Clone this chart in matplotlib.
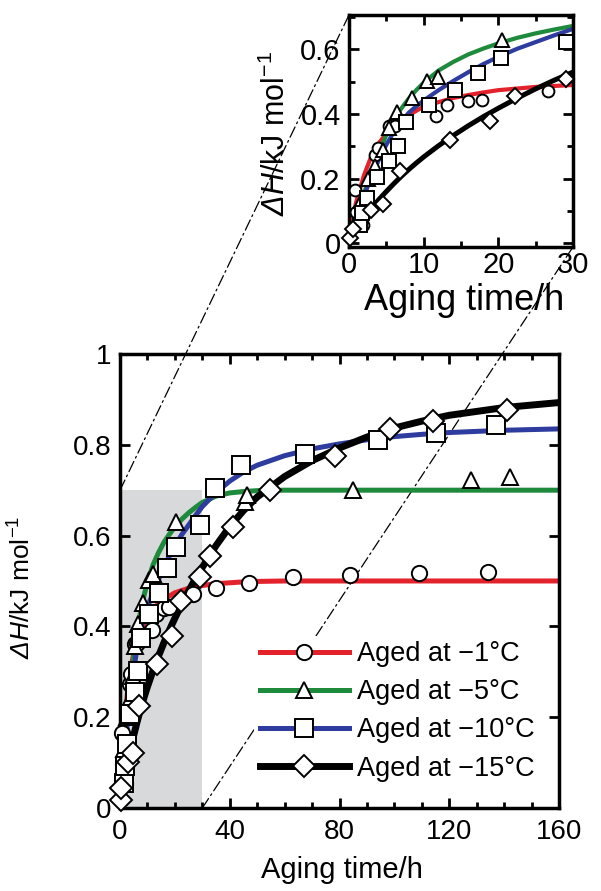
import matplotlib
matplotlib.use("Agg")
import matplotlib.pyplot as plt
from matplotlib.patches import Rectangle, ConnectionPatch
from matplotlib.lines import Line2D
from matplotlib.ticker import MultipleLocator, FuncFormatter

plt.rcParams["font.family"] = "Liberation Sans"
plt.rcParams["mathtext.fontset"] = "custom"
plt.rcParams["mathtext.rm"] = "Liberation Sans"
# mathtext forces Greek capitals upright under \mathit, so the italic
# face is routed through the sf slot instead
plt.rcParams["mathtext.sf"] = "Liberation Sans:italic"

# --- fitted curves (enthalpy recovery vs aging time) ---
t_fit = [0, 1, 2, 3, 4, 5, 6, 7, 8, 9, 10,
         12, 14, 16, 18, 20, 22.5, 25, 27.5, 30,
         35, 40, 45, 50,
         60, 70, 80, 90, 100, 110, 120, 140, 160]
fit_m1 = [0.04, 0.13, 0.21, 0.27, 0.31, 0.34, 0.362, 0.38, 0.396, 0.41, 0.423,
          0.437, 0.45, 0.459, 0.467, 0.474, 0.479, 0.484, 0.487, 0.49,
          0.494, 0.496, 0.498, 0.499,
          0.5, 0.5, 0.5, 0.5, 0.5, 0.5, 0.5, 0.5, 0.5]
fit_m5 = [0.03, 0.09, 0.155, 0.22, 0.28, 0.335, 0.38, 0.417, 0.448, 0.474, 0.497,
          0.535, 0.562, 0.585, 0.603, 0.619, 0.636, 0.65, 0.662, 0.673,
          0.687, 0.694, 0.697, 0.699,
          0.7, 0.7, 0.7, 0.7, 0.7, 0.7, 0.7, 0.7, 0.7]
fit_m10 = [0.03, 0.085, 0.145, 0.205, 0.258, 0.305, 0.344, 0.377, 0.404, 0.424,
           0.442,
           0.474, 0.503, 0.53, 0.555, 0.577, 0.602, 0.623, 0.644, 0.664,
           0.695, 0.72, 0.74, 0.755,
           0.776, 0.791, 0.802, 0.811, 0.818, 0.823, 0.827, 0.832, 0.835]
fit_m15 = [0.02, 0.05, 0.08, 0.108, 0.135, 0.16, 0.184, 0.207, 0.228, 0.248,
           0.267,
           0.302, 0.334, 0.364, 0.392, 0.418, 0.449, 0.478, 0.505, 0.53,
           0.578, 0.62, 0.655, 0.685,
           0.73, 0.765, 0.793, 0.817, 0.837, 0.852, 0.865, 0.882, 0.893]

# --- measured points ---
m1_t = [0.8, 1.0, 1.9, 3.5, 3.9, 5.3, 6.2, 11.6, 13.1, 16.0, 17.8, 26.7, 35, 47,
        63, 84, 109, 134]
m1_v = [0.165, 0.097, 0.056, 0.272, 0.295, 0.362, 0.364, 0.393, 0.427, 0.44,
        0.443, 0.472, 0.485, 0.496, 0.508, 0.513, 0.517, 0.52]
m5_t = [1.6, 2.6, 3.5, 4.6, 5.3, 6.4, 8.4, 10.5, 11.9, 20.5, 45.6, 46.4, 85, 128,
        142]
m5_v = [0.13, 0.2, 0.24, 0.29, 0.356, 0.405, 0.451, 0.502, 0.515, 0.629, 0.675,
        0.69, 0.7, 0.722, 0.729]
m10_t = [1.5, 1.7, 2.4, 3.7, 5.3, 6.6, 7.6, 10.7, 14.2, 17.3, 20.3, 29.0, 34.6,
         44.0, 67.5, 94, 115, 137]
m10_v = [0.056, 0.092, 0.14, 0.206, 0.255, 0.302, 0.375, 0.428, 0.474, 0.528,
         0.574, 0.623, 0.704, 0.755, 0.779, 0.81, 0.825, 0.844]
m15_t = [0.2, 0.5, 3.0, 4.6, 6.8, 13.5, 18.9, 22.2, 29.1, 32.8, 41, 54.5, 78.4,
         98.4, 114.2, 140.9]
m15_v = [0.017, 0.045, 0.102, 0.12, 0.224, 0.318, 0.378, 0.456, 0.509, 0.555,
         0.62, 0.7, 0.776, 0.835, 0.853, 0.877]

LABELS = ["Aged at \u22121\u00b0C", "Aged at \u22125\u00b0C",
          "Aged at \u221210\u00b0C", "Aged at \u221215\u00b0C"]
COLORS = ["#e3222b", "#1e8a3c", "#2d3c9e", "black"]
MARKERS = ["o", "^", "s", "D"]
MS_MAIN = [11, 12, 13, 11]
MS_INSET = [8.5, 9.5, 10, 8.5]
YLABEL = r"$\mathsf{\Delta H}$/kJ mol$^{-1}$"

ZOOM_T = 30     # shaded region shown magnified in the inset
ZOOM_V = 0.7

fits = [fit_m1, fit_m5, fit_m10, fit_m15]
points = [(m1_t, m1_v), (m5_t, m5_v), (m10_t, m10_v), (m15_t, m15_v)]

fig = plt.figure(figsize=(6.01, 8.91), dpi=100)
ax = fig.add_axes([0.1997, 0.0932, 0.7304, 0.5095])
axin = fig.add_axes([0.5807, 0.7228, 0.3727, 0.2604])
ax.set_facecolor("none")

fmt = FuncFormatter(lambda v, pos: f"{v:g}")


def draw_panel(a, sizes, lw_col, lw_blk, tmax=None):
    for y, c in zip(fits, COLORS):
        a.plot(t_fit, y, color=c, lw=lw_blk if c == "black" else lw_col,
               zorder=2, solid_capstyle="butt", solid_joinstyle="round")
    for (tt, vv), m, ms in zip(points, MARKERS, sizes):
        if tmax is not None:
            keep = [i for i, t in enumerate(tt) if t <= tmax]
            tt = [tt[i] for i in keep]
            vv = [vv[i] for i in keep]
        a.plot(tt, vv, ls="none", marker=m, ms=ms, mfc="white", mec="black",
               mew=1.4, zorder=3, clip_on=False)
    for s in a.spines.values():
        s.set_linewidth(2.5)
    a.tick_params(which="both", direction="in", top=True, right=True, width=2)
    a.tick_params(which="major", length=7)
    a.tick_params(which="minor", length=4)
    a.xaxis.set_major_formatter(fmt)
    a.yaxis.set_major_formatter(fmt)


# main panel
ax.add_patch(Rectangle((0, 0), ZOOM_T, ZOOM_V, facecolor="#d8d9db",
                       edgecolor="none", zorder=1))
draw_panel(ax, MS_MAIN, 3.6, 5.0)
ax.set_xlim(0, 160)
ax.set_ylim(0, 1)
ax.xaxis.set_major_locator(MultipleLocator(40))
ax.xaxis.set_minor_locator(MultipleLocator(10))
ax.yaxis.set_major_locator(MultipleLocator(0.2))
ax.tick_params(axis="x", labelsize=20, pad=8)
ax.tick_params(axis="y", labelsize=20, pad=6)
ax.set_xlabel("Aging time/h", fontsize=21)
ax.xaxis.set_label_coords(0.506, -0.105)
ax.set_ylabel(YLABEL, fontsize=19)
ax.yaxis.set_label_coords(-0.195, 0.485)

handles = [Line2D([], [], color=c, lw=5.0 if c == "black" else 3.6, marker=m,
                  ms=ms, mfc="white", mec="black", mew=1.4)
           for c, m, ms in zip(COLORS, MARKERS, MS_MAIN)]
ax.legend(handles, LABELS, loc="lower left", bbox_to_anchor=(0.306, 0.046),
          fontsize=19.5, handlelength=3.3, numpoints=1, frameon=True,
          facecolor="white", edgecolor="none", framealpha=1, borderpad=0.2,
          labelspacing=0.45, handletextpad=0.3, borderaxespad=0)

# inset: first 30 h
draw_panel(axin, MS_INSET, 3.0, 3.6, tmax=ZOOM_T)
axin.set_xlim(0, ZOOM_T)
axin.set_ylim(-0.012, 0.707)
axin.xaxis.set_major_locator(MultipleLocator(10))
axin.xaxis.set_minor_locator(MultipleLocator(5))
axin.yaxis.set_major_locator(MultipleLocator(0.2))
axin.yaxis.set_minor_locator(MultipleLocator(0.1))
axin.tick_params(axis="x", labelsize=21, pad=3)
axin.tick_params(axis="y", labelsize=21, pad=6)
axin.set_xlabel("Aging time/h", fontsize=26)
axin.xaxis.set_label_coords(0.513, -0.155)
axin.set_ylabel(YLABEL, fontsize=22)
axin.yaxis.set_label_coords(-0.255, 0.49)

# dash-dot guides from the shaded box to the inset corners
for xyA, xyB in [((0, ZOOM_V), (0, 1)), ((ZOOM_T, 0), (1, 0))]:
    con = ConnectionPatch(xyA=xyA, coordsA=ax.transData, xyB=xyB,
                          coordsB=axin.transAxes, color="black", lw=0.9,
                          linestyle=(0, (9, 3, 1.5, 3)), zorder=-1)
    fig.add_artist(con)

fig.savefig("out.png", dpi=100)
